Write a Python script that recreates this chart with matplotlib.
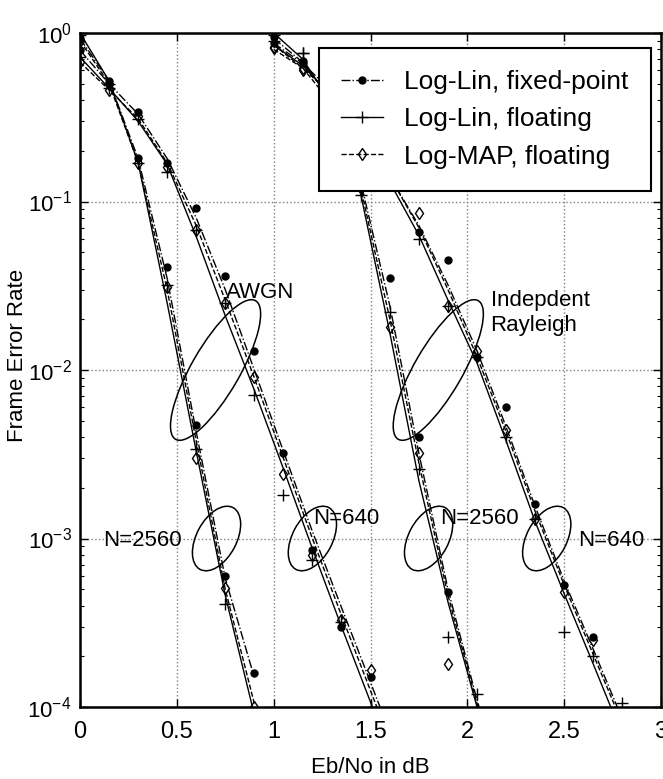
import matplotlib
matplotlib.use("Agg")
import matplotlib.pyplot as plt
from matplotlib.lines import Line2D
from matplotlib.patches import Ellipse
from matplotlib.transforms import ScaledTranslation
from matplotlib.ticker import LogLocator, NullFormatter

# ---- data (x in dB, y = frame error rate) ----
# AWGN, N=2560
x_awgn_2560 = [0.0, 0.15, 0.3, 0.45, 0.6, 0.75, 0.9]
awgn_2560_fixed = [0.93, 0.52, 0.18, 0.041, 4.7e-3, 6.0e-4, 1.6e-4]
awgn_2560_float = [0.97, 0.50, 0.17, 0.032, 3.4e-3, 4.1e-4, 0.9e-4]
awgn_2560_map = [0.90, 0.50, 0.17, 0.031, 3.0e-3, 5.1e-4, 1.0e-4]
awgn_2560_fixed_fit = [0.93, 0.52, 0.18, 0.035, 4.3e-3, 5.8e-4, 1.5e-4]
awgn_2560_float_fit = [1.0, 0.52, 0.17, 0.025, 3.3e-3, 4.6e-4, 0.9e-4]
awgn_2560_map_fit = [0.90, 0.50, 0.17, 0.030, 3.8e-3, 5.0e-4, 1.05e-4]

# AWGN, N=640
x_awgn_640 = [0.0, 0.15, 0.3, 0.45, 0.6, 0.75, 0.9, 1.05, 1.2, 1.35, 1.5, 1.65]
awgn_640_fixed = [0.79, 0.50, 0.34, 0.17, 0.091, 0.036, 0.013, 3.2e-3, 8.5e-4, 3.0e-4, 1.5e-4, 5e-5]
awgn_640_float = [0.72, 0.47, 0.31, 0.15, 0.068, 0.025, 7.1e-3, 1.8e-3, 7.5e-4, 3.2e-4, 1.0e-4, 3e-5]
awgn_640_map = [0.67, 0.46, 0.32, 0.16, 0.068, 0.025, 9.1e-3, 2.4e-3, 8.0e-4, 3.3e-4, 1.66e-4, 5e-5]
awgn_640_fixed_fit = [0.79, 0.50, 0.33, 0.18, 0.080, 0.030, 0.010, 3.3e-3, 1.1e-3, 3.9e-4, 1.4e-4, 5e-5]
awgn_640_float_fit = [0.72, 0.47, 0.30, 0.166, 0.062, 0.021, 7.6e-3, 2.6e-3, 8.7e-4, 3.0e-4, 1.07e-4, 3.5e-5]
awgn_640_map_fit = [0.67, 0.46, 0.31, 0.17, 0.072, 0.026, 9.0e-3, 3.0e-3, 1.0e-3, 3.5e-4, 1.25e-4, 4.5e-5]

# independent Rayleigh, N=2560
x_ray_2560 = [1.0, 1.15, 1.3, 1.45, 1.6, 1.75, 1.9, 2.05, 2.2]
ray_2560_fixed = [0.95, 0.68, 0.40, 0.13, 0.035, 4.0e-3, 4.8e-4, 9e-5, 3e-5]
ray_2560_float = [0.97, 0.76, 0.38, 0.11, 0.022, 2.6e-3, 2.6e-4, 1.2e-4, 3e-5]
ray_2560_map = [0.83, 0.60, 0.36, 0.12, 0.018, 3.2e-3, 1.8e-4, 0.9e-4, 3e-5]
ray_2560_fixed_fit = [0.93, 0.67, 0.40, 0.13, 0.024, 3.2e-3, 5.0e-4, 1.1e-4, 3e-5]
ray_2560_float_fit = [1.0, 0.70, 0.38, 0.11, 0.0166, 2.2e-3, 4.2e-4, 1.0e-4, 2.5e-5]
ray_2560_map_fit = [0.85, 0.62, 0.38, 0.12, 0.020, 2.8e-3, 4.6e-4, 1.05e-4, 2.7e-5]

# independent Rayleigh, N=640
x_ray_640 = [1.0, 1.15, 1.3, 1.45, 1.6, 1.75, 1.9, 2.05, 2.2, 2.35, 2.5, 2.65, 2.8]
ray_640_fixed = [0.87, 0.66, 0.45, 0.27, 0.14, 0.066, 0.045, 0.012, 6.0e-3, 1.6e-3, 5.3e-4, 2.6e-4, 9e-5]
ray_640_float = [0.90, 0.76, 0.42, 0.25, 0.13, 0.060, 0.024, 0.012, 4.0e-3, 1.3e-3, 2.8e-4, 2.0e-4, 1.05e-4]
ray_640_map = [0.82, 0.62, 0.43, 0.26, 0.14, 0.085, 0.024, 0.013, 4.4e-3, 1.3e-3, 4.8e-4, 2.5e-4, 9e-5]
ray_640_fixed_fit = [0.87, 0.66, 0.45, 0.27, 0.14, 0.072, 0.032, 0.013, 4.6e-3, 1.55e-3, 5.6e-4, 2.2e-4, 8.5e-5]
ray_640_float_fit = [0.85, 0.64, 0.42, 0.25, 0.13, 0.063, 0.026, 0.011, 3.8e-3, 1.26e-3, 4.7e-4, 1.8e-4, 6.8e-5]
ray_640_map_fit = [0.80, 0.62, 0.43, 0.26, 0.14, 0.070, 0.030, 0.012, 4.3e-3, 1.45e-3, 5.3e-4, 2.05e-4, 8.0e-5]

legend_labels = ["Log-Lin, fixed-point", "Log-Lin, floating", "Log-MAP, floating"]
x_ticks = [0, 0.5, 1, 1.5, 2, 2.5, 3]
x_tick_labels = ["0", "0.5", "1", "1.5", "2", "2.5", "3"]

plt.rcParams["font.family"] = ["Liberation Sans", "DejaVu Sans"]

STYLES = [
    dict(ls="-.", marker="o", mfc="black", ms=5),
    dict(ls="-", marker="+", mfc="black", ms=8),
    dict(ls="--", marker="d", mfc="none", ms=6),
]

groups = [
    (x_awgn_2560, [awgn_2560_fixed, awgn_2560_float, awgn_2560_map],
     [awgn_2560_fixed_fit, awgn_2560_float_fit, awgn_2560_map_fit]),
    (x_awgn_640, [awgn_640_fixed, awgn_640_float, awgn_640_map],
     [awgn_640_fixed_fit, awgn_640_float_fit, awgn_640_map_fit]),
    (x_ray_2560, [ray_2560_fixed, ray_2560_float, ray_2560_map],
     [ray_2560_fixed_fit, ray_2560_float_fit, ray_2560_map_fit]),
    (x_ray_640, [ray_640_fixed, ray_640_float, ray_640_map],
     [ray_640_fixed_fit, ray_640_float_fit, ray_640_map_fit]),
]

fig = plt.figure(figsize=(6.63, 7.79), dpi=100)
ax = fig.add_axes([80 / 663, 72 / 779, 581 / 663, 674 / 779])

for x, marks, fits in groups:
    for st, m, f in zip(STYLES, marks, fits):
        ax.plot(x, f, color="black", lw=1.0, ls=st["ls"])
        ax.plot(x, m, color="black", ls="none", marker=st["marker"],
                mfc=st["mfc"], mec="black", ms=st["ms"], mew=1.0)

ax.set_yscale("log")
ax.set_xlim(0, 3)
ax.set_ylim(1e-4, 1)
ax.set_xticks(x_ticks)
ax.set_xticklabels(x_tick_labels)
ax.yaxis.set_major_locator(LogLocator(base=10, numticks=10))
ax.yaxis.set_minor_locator(LogLocator(base=10, subs=range(2, 10), numticks=50))
ax.yaxis.set_minor_formatter(NullFormatter())
ax.tick_params(which="both", direction="in", top=True, right=True)
ax.tick_params(axis="x", labelsize=17, pad=10)
ax.tick_params(axis="y", labelsize=16, pad=6)
ax.tick_params(which="major", length=6, width=1)
ax.tick_params(which="minor", length=3, width=0.8)
ax.grid(True, which="major", ls=":", color="0.5", lw=1)
for s in ax.spines.values():
    s.set_linewidth(1.8)

ax.set_xlabel("Eb/No in dB", fontsize=16, labelpad=10)
ax.set_ylabel("Frame Error Rate", fontsize=16)
ax.yaxis.set_label_coords(-0.09, 0.522)

# ellipses drawn in pixel sizes around data centres
def ring(cx, cy, w, h, ang):
    tr = fig.dpi_scale_trans + ScaledTranslation(cx, cy, ax.transData)
    ax.add_patch(Ellipse((0, 0), w / 100, h / 100, angle=ang, transform=tr,
                         fill=False, ec="black", lw=1.1, zorder=4))

ring(0.70, 1e-2, 160, 48, 60)
ring(1.85, 1e-2, 160, 48, 60)
for cx in (0.705, 1.20, 1.80, 2.41):
    ring(cx, 1e-3, 70, 40, 62)

ax.text(0.755, 0.0288, "AWGN", fontsize=16, va="center", ha="left")
ax.text(2.12, 0.0218, "Indepdent\nRayleigh", fontsize=16, va="center", ha="left",
        linespacing=1.25)
ax.text(0.119, 9.7e-4, "N=2560", fontsize=16, va="center", ha="left")
ax.text(1.204, 1.32e-3, "N=640", fontsize=16, va="center", ha="left")
ax.text(1.86, 1.32e-3, "N=2560", fontsize=16, va="center", ha="left")
ax.text(2.57, 9.7e-4, "N=640", fontsize=16, va="center", ha="left")

handles = [Line2D([], [], color="black", lw=1.0, ls=st["ls"], marker=st["marker"],
                  mfc=st["mfc"], mec="black", ms=st["ms"]) for st in STYLES]
leg = ax.legend(handles, legend_labels, loc="upper right", bbox_to_anchor=(0.983, 0.978),
                borderaxespad=0, fontsize=19, frameon=True, fancybox=False, framealpha=1,
                edgecolor="black", handlelength=1.6, handletextpad=0.8,
                labelspacing=0.5, borderpad=0.85, numpoints=1)
leg.get_frame().set_linewidth(1.5)
leg.set_zorder(6)

fig.savefig("out.png", dpi=100)
